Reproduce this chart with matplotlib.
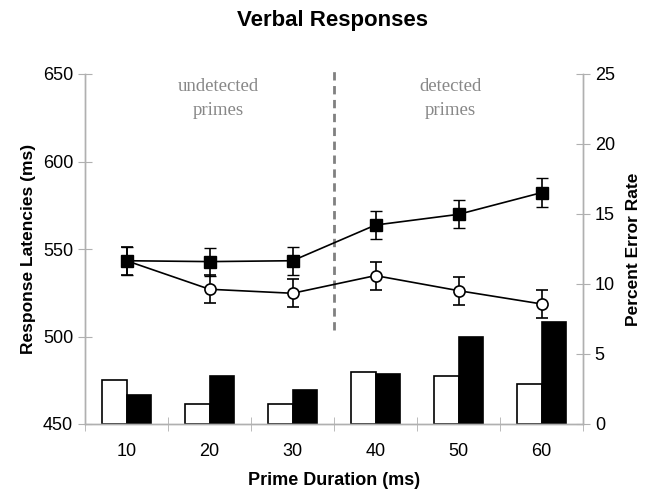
import matplotlib.pyplot as plt
import numpy as np

plt.rcParams['font.family'] = ['Liberation Sans', 'DejaVu Sans']

durations = ['10', '20', '30', '40', '50', '60']

# response latencies (ms), left axis
lat_filled = [543.3, 542.8, 543.3, 563.7, 569.8, 582.2]
lat_open = [543.3, 527.0, 524.7, 534.8, 526.2, 518.6]
err_filled = [8, 8, 8, 8, 8, 8.4]
err_open = [8, 8, 8, 8, 8, 8]

# percent error rate, right axis
pe_open = [3.14, 1.4, 1.4, 3.7, 3.43, 2.86]
pe_filled = [2.1, 3.45, 2.4, 3.55, 6.2, 7.3]

x = np.arange(len(durations))
gray = '#b0b0b0'

fig = plt.figure(figsize=(6.51, 4.92), dpi=100)
ax = fig.add_axes([85/651, 68/492, 498/651, 350/492])
ax2 = ax.twinx()

w = 0.295
ax2.bar(x - w/2, pe_open, w, color='white', edgecolor='black', linewidth=1.2)
ax2.bar(x + w/2, pe_filled, w, color='black', edgecolor='black', linewidth=1.2)
ax2.set_ylim(0, 25)
ax2.set_yticks([0, 5, 10, 15, 20, 25])

ax.errorbar(x, lat_open, yerr=err_open, fmt='-o', color='black', mfc='white',
            mec='black', ms=8, lw=1.2, capsize=4, elinewidth=1.2, mew=1.2, zorder=3)
ax.errorbar(x, lat_filled, yerr=err_filled, fmt='-s', color='black', mfc='black',
            ms=8, lw=1.2, capsize=4, elinewidth=1.2, zorder=4)

ax.set_ylim(450, 650)
ax.set_yticks([450, 500, 550, 600, 650])
ax.set_xlim(-0.5, 5.5)
ax.set_xticks(x)
ax.set_xticklabels(durations)
ax.set_xticks(np.arange(-0.5, 6, 1), minor=True)
ax.tick_params(axis='x', which='major', length=0, pad=14, labelsize=13)
ax.tick_params(axis='x', which='minor', direction='inout', length=10, color=gray)

ax.set_zorder(ax2.get_zorder() + 1)
ax.patch.set_visible(False)

for a in (ax, ax2):
    a.spines['top'].set_visible(False)
    for s in ('left', 'right', 'bottom'):
        a.spines[s].set_color(gray)
        a.spines[s].set_linewidth(1.0)
    a.tick_params(axis='y', direction='inout', length=10, color=gray, labelsize=13)

# boundary between undetected and detected durations
ax.plot([2.5, 2.5], [504, 653.5], ls='--', color='#808080', lw=2, dashes=(3, 2),
        clip_on=False)

ax.text(1.1, 647.5, 'undetected\nprimes', ha='center', va='top', color='#888888',
        fontsize=13.5, family='Liberation Serif', linespacing=1.5)
ax.text(3.9, 647.5, 'detected\nprimes', ha='center', va='top', color='#888888',
        fontsize=13.5, family='Liberation Serif', linespacing=1.5)

ax.set_xlabel('Prime Duration (ms)', fontsize=13, fontweight='bold', labelpad=8)
ax.set_ylabel('Response Latencies (ms)', fontsize=12.5, fontweight='bold', labelpad=5)
ax2.set_ylabel('Percent Error Rate', fontsize=12.5, fontweight='bold', labelpad=8)
fig.suptitle('Verbal Responses', x=0.51, y=0.98, fontsize=16, fontweight='bold')

fig.savefig('out.png', dpi=100)
